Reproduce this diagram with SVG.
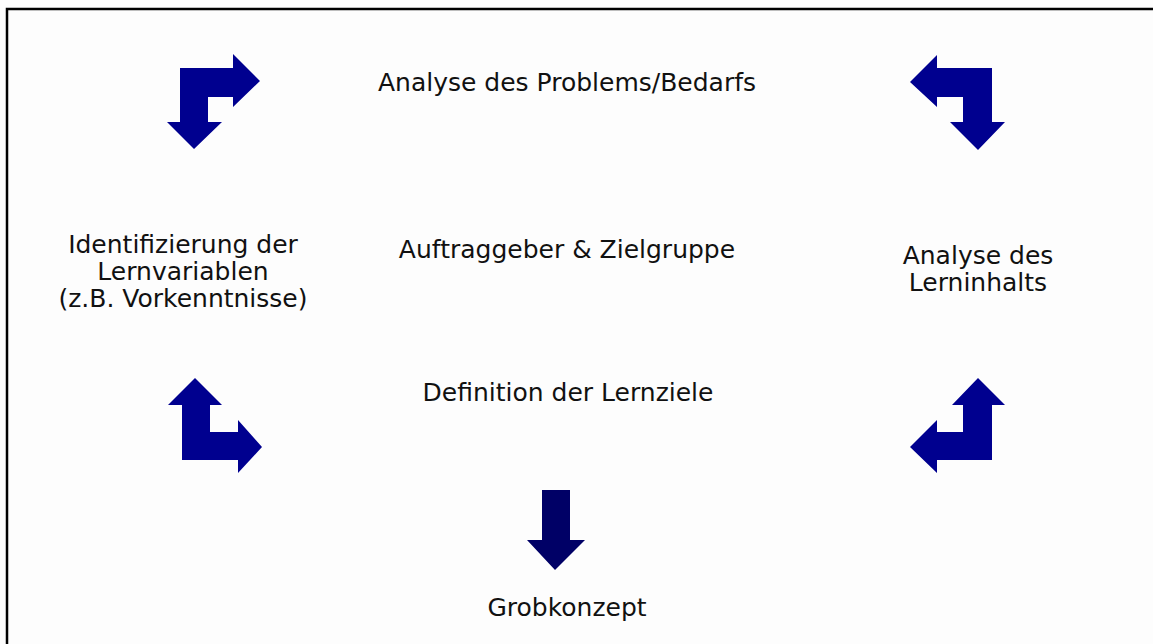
<svg xmlns="http://www.w3.org/2000/svg" width="1153" height="644" viewBox="0 0 1153 644">
<style>
  .t { font-family: "DejaVu Sans", Verdana, sans-serif; font-size: 25px; fill: #111; text-anchor: middle; }
  .a { fill: #00008f; }
  .d { fill: #000066; }
</style>
<rect x="0" y="0" width="1153" height="644" fill="#fdfdfd"/>
<rect x="7" y="9" width="1160" height="660" fill="none" stroke="#000" stroke-width="2.5"/>
<g id="connectors">
  <path class="a" d="M180,68 L233,68 L233,54 L260,81 L233,107 L233,97 L208,97 L208,122 L222,122 L194,149 L167,122 L180,122 Z"/>
  <path class="a" d="M992,68 L937,68 L937,55 L910,82 L937,107 L937,97 L963,97 L963,122 L950,122 L978,150 L1005,122 L992,122 Z"/>
  <path class="a" d="M182,460 L238,460 L238,473 L262,447 L238,420 L238,432 L210,432 L210,405 L222,405 L195,378 L168,405 L182,405 Z"/>
  <path class="a" d="M992,460 L937,460 L937,473 L910,447 L937,420 L937,432 L963,432 L963,405 L952,405 L978,378 L1005,405 L992,405 Z"/>
  <path class="d" d="M542,490 L570,490 L570,540 L585,540 L555,570 L527,540 L542,540 Z"/>
</g>
<g id="node-problem"><text class="t" x="567" y="91">Analyse des Problems/Bedarfs</text></g>
<g id="node-lernvariablen"><text class="t" x="183" y="253">Identifizierung der<tspan x="183" dy="27">Lernvariablen</tspan><tspan x="183" dy="27">(z.B. Vorkenntnisse)</tspan></text></g>
<g id="node-auftraggeber"><text class="t" x="567" y="258">Auftraggeber &amp; Zielgruppe</text></g>
<g id="node-lerninhalt"><text class="t" x="978" y="264">Analyse des<tspan x="978" dy="27">Lerninhalts</tspan></text></g>
<g id="node-lernziele"><text class="t" x="568" y="401">Definition der Lernziele</text></g>
<g id="node-grobkonzept"><text class="t" x="567" y="616">Grobkonzept</text></g>
</svg>
